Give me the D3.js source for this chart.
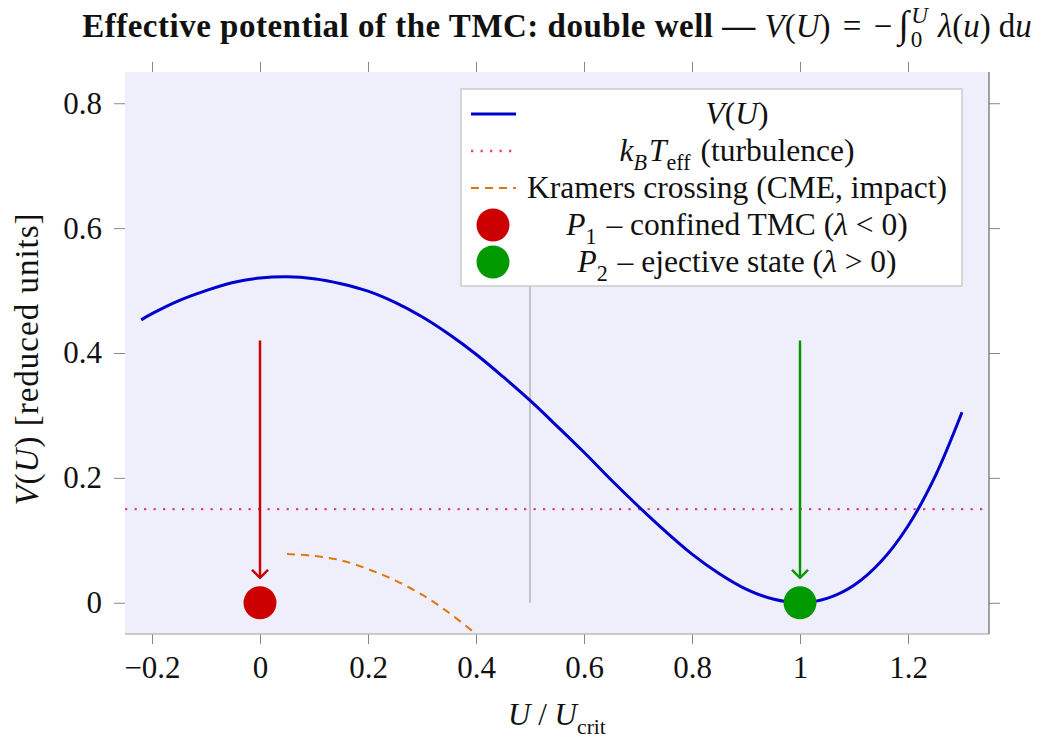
<!DOCTYPE html>
<html>
<head>
<meta charset="utf-8">
<script src="https://cdn.jsdelivr.net/npm/d3@7"></script>
<style>
  body { margin: 0; background: #fff; }
  text { font-family: "Liberation Serif", "DejaVu Serif", serif; fill: #111; }
</style>
</head>
<body>
<svg id="chart" width="1053" height="740"></svg>
<script>
// values
var uVals = [-0.22, -0.20, -0.15, -0.10, -0.05, 0.00, 0.05, 0.10, 0.15, 0.20, 0.25, 0.30, 0.35,
             0.40, 0.45, 0.50, 0.55, 0.60, 0.65, 0.70, 0.75, 0.80, 0.85, 0.90, 0.95, 1.00,
             1.05, 1.10, 1.15, 1.20, 1.25, 1.30];
var vVals = [0.453, 0.463, 0.484, 0.500, 0.513, 0.520, 0.522, 0.519, 0.511, 0.499, 0.481, 0.458, 0.430,
             0.398, 0.362, 0.324, 0.283, 0.241, 0.197, 0.155, 0.115, 0.078, 0.047, 0.022, 0.006, 0.000,
             0.007, 0.028, 0.066, 0.123, 0.202, 0.305];
var kramU = [0.05, 0.10, 0.15, 0.20, 0.25, 0.30, 0.35, 0.40];
var kramV = [0.078, 0.075, 0.068, 0.054, 0.036, 0.013, -0.016, -0.050];
var kT = 0.15;
var barrierU = 0.5, barrierTop = 0.52;
var wellU = [0, 1];
var wellV = [0, 0];
var arrowFrom = 0.42, arrowTo = 0.04;
var xTicks = [-0.2, 0, 0.2, 0.4, 0.6, 0.8, 1, 1.2];
var yTicks = [0, 0.2, 0.4, 0.6, 0.8];

var BLUE = "#0000cc", RED = "#cc0000", GREEN = "#009900", ORANGE = "#dd7711", PINK = "#d84a7e";

var svg = d3.select("#chart");
var x = d3.scaleLinear().domain([-0.25, 1.35]).range([125, 989]);
var y = d3.scaleLinear().domain([-0.05, 0.85]).range([634, 72]);

// helper: text made of pieces [string, "i"/"n"/"b", "sub"/"sup"/"", dx, size factor]
function rich(t, parts, size) {
    var shift = 0;
    parts.forEach(function (p) {
        var ts = t.append("tspan").text(p[0]);
        if (p[1] == "i") ts.style("font-style", "italic");
        if (p[1] == "b") ts.style("font-weight", "bold");
        var want = 0;
        if (p[2] == "sub") want = size * 0.3;
        if (p[2] == "sup") want = -size * 0.42;
        if (p[2]) ts.style("font-size", (size * 0.7) + "px");
        if (p[4]) ts.style("font-size", (size * p[4]) + "px");
        if (p[3]) ts.attr("dx", p[3]);
        if (want != shift) { ts.attr("dy", want - shift); shift = want; }
    });
    return t;
}

var defs = svg.append("defs");
defs.append("clipPath").attr("id", "plotclip").append("rect")
    .attr("x", 125).attr("y", 72).attr("width", 864).attr("height", 562);
[["ahRed", RED], ["ahGreen", GREEN]].forEach(function (m) {
    defs.append("marker").attr("id", m[0]).attr("markerUnits", "userSpaceOnUse")
        .attr("viewBox", "-10 -10 20 20").attr("markerWidth", 20).attr("markerHeight", 20)
        .attr("refX", 0).attr("refY", 0).attr("orient", "auto")
        .append("path").attr("d", "M-8,-8 L0,0 L-8,8")
        .attr("fill", "none").attr("stroke", m[1]).attr("stroke-width", 2.5);
});

// plot background
svg.append("rect").attr("x", 125).attr("y", 72).attr("width", 864).attr("height", 562)
    .attr("fill", "#efeffc");

// axes (ticks outward on all four sides)
function styleAxis(g) {
    g.select(".domain").remove();
    g.selectAll(".tick line").attr("stroke", "#888").attr("stroke-width", 1);
    g.selectAll(".tick text").style("font-size", "31px")
        .style("font-family", '"Liberation Serif", serif').attr("fill", "#111");
}
var fmt = function (d) { return String(d).replace("-", "\u2212"); };
svg.append("g").attr("transform", "translate(0,634)")
    .call(d3.axisBottom(x).tickValues(xTicks).tickSize(10).tickPadding(12).tickFormat(fmt)).call(styleAxis);
svg.append("g").attr("transform", "translate(0,72)")
    .call(d3.axisTop(x).tickValues(xTicks).tickSize(10).tickFormat("")).call(styleAxis);
svg.append("g").attr("transform", "translate(125,0)")
    .call(d3.axisLeft(y).tickValues(yTicks).tickSize(11).tickPadding(12).tickFormat(fmt)).call(styleAxis);
svg.append("g").attr("transform", "translate(989,0)")
    .call(d3.axisRight(y).tickValues(yTicks).tickSize(11).tickFormat("")).call(styleAxis);

// frame lines
svg.append("line").attr("x1", 125).attr("x2", 989).attr("y1", 634).attr("y2", 634)
    .attr("stroke", "#bbb").attr("stroke-width", 1.5);
svg.append("line").attr("x1", 989).attr("x2", 989).attr("y1", 72).attr("y2", 634)
    .attr("stroke", "#666").attr("stroke-width", 1.2);

var plot = svg.append("g").attr("clip-path", "url(#plotclip)");

// barrier marker at U = 0.5
plot.append("line").attr("x1", x(barrierU)).attr("x2", x(barrierU))
    .attr("y1", y(0)).attr("y2", y(barrierTop))
    .attr("stroke", "#aaa").attr("stroke-width", 1.3);

// k_B T_eff
plot.append("line").attr("x1", 125).attr("x2", 989).attr("y1", y(kT)).attr("y2", y(kT))
    .attr("stroke", PINK).attr("stroke-width", 2.3).attr("stroke-dasharray", "2.3,7.2");

// Kramers crossing
var kramPts = kramU.map(function (u, i) { return [u, kramV[i]]; });
plot.append("path").datum(kramPts)
    .attr("d", d3.line().x(function (d) { return x(d[0]); }).y(function (d) { return y(d[1]); })
        .curve(d3.curveCatmullRom))
    .attr("fill", "none").attr("stroke", ORANGE).attr("stroke-width", 2).attr("stroke-dasharray", "8,6");

// potential curve
var pts = uVals.map(function (u, i) { return [u, vVals[i]]; });
plot.append("path").datum(pts)
    .attr("d", d3.line().x(function (d) { return x(d[0]); }).y(function (d) { return y(d[1]); })
        .curve(d3.curveCatmullRom))
    .attr("fill", "none").attr("stroke", BLUE).attr("stroke-width", 3);

// arrows and wells
[[RED, "ahRed"], [GREEN, "ahGreen"]].forEach(function (c, i) {
    plot.append("line").attr("x1", x(wellU[i])).attr("x2", x(wellU[i]))
        .attr("y1", y(arrowFrom)).attr("y2", y(arrowTo))
        .attr("stroke", c[0]).attr("stroke-width", 2.5).attr("marker-end", "url(#" + c[1] + ")");
    plot.append("circle").attr("cx", x(wellU[i])).attr("cy", y(wellV[i])).attr("r", 16.5)
        .attr("fill", c[0]);
});

// legend
var lg = svg.append("g");
lg.append("rect").attr("x", 461).attr("y", 89).attr("width", 501).attr("height", 197)
    .attr("fill", "#fff").attr("stroke", "#ccc").attr("stroke-width", 1.5);
var rowY = [114, 151, 188, 225, 262];
var legendText = [
    [["V", "i"], ["(", "n"], ["U", "i"], [")", "n"]],
    [["k", "i"], ["B", "i", "sub"], ["T", "i", "", 2], ["eff", "n", "sub"], [" (turbulence)", "n", "", 2]],
    [["Kramers crossing (CME, impact)", "n"]],
    [["P", "i"], ["1", "n", "sub"], [" \u2013 confined TMC (", "n", "", 2], ["\u03bb", "i"], [" < 0)", "n"]],
    [["P", "i"], ["2", "n", "sub"], [" \u2013 ejective state (", "n", "", 2], ["\u03bb", "i"], [" > 0)", "n"]]
];
lg.append("line").attr("x1", 471).attr("x2", 516).attr("y1", rowY[0]).attr("y2", rowY[0])
    .attr("stroke", BLUE).attr("stroke-width", 3);
lg.append("line").attr("x1", 471).attr("x2", 516).attr("y1", rowY[1]).attr("y2", rowY[1])
    .attr("stroke", PINK).attr("stroke-width", 2.3).attr("stroke-dasharray", "2.3,7.2");
lg.append("line").attr("x1", 471).attr("x2", 516).attr("y1", rowY[2]).attr("y2", rowY[2])
    .attr("stroke", ORANGE).attr("stroke-width", 2).attr("stroke-dasharray", "8,6");
lg.append("circle").attr("cx", 493).attr("cy", rowY[3]).attr("r", 16.5).attr("fill", RED);
lg.append("circle").attr("cx", 493).attr("cy", rowY[4]).attr("r", 16.5).attr("fill", GREEN);
legendText.forEach(function (parts, i) {
    var t = lg.append("text").attr("x", 737).attr("y", rowY[i] + 10)
        .attr("text-anchor", "middle").style("font-size", "31.5px");
    rich(t, parts, 31.5);
});

// title
var title = svg.append("text").attr("x", 557).attr("y", 37).attr("text-anchor", "middle")
    .style("font-size", "33px");
rich(title, [
    ["Effective potential of the TMC: double well \u2014 ", "b"],
    ["V", "i"], ["(", "n"], ["U", "i"], [")", "n"], [" = ", "n", "", 4], ["\u2212", "n", "", 4],
    ["\u222b", "n", "", 6, 1.15],
    ["0", "n", "sub", 2], ["U", "i", "sup", -11], ["\u03bb", "i", "", 10], ["(", "n"], ["u", "i"], [")", "n"],
    ["d", "n", "", 8], ["u", "i"]
], 33);
title.select("tspan").style("letter-spacing", "0.5px");

// axis labels
var xl = svg.append("text").attr("x", 557).attr("y", 725).attr("text-anchor", "middle")
    .style("font-size", "31px");
rich(xl, [["U", "i"], [" / ", "n"], ["U", "i"], ["crit", "n", "sub"]], 31);

var yl = svg.append("text").attr("transform", "translate(38,359) rotate(-90)")
    .attr("text-anchor", "middle").style("font-size", "33px").style("letter-spacing", "1px");
rich(yl, [["V", "i"], ["(", "n"], ["U", "i"], [") [reduced units]", "n"]], 33);
</script>
</body>
</html>
